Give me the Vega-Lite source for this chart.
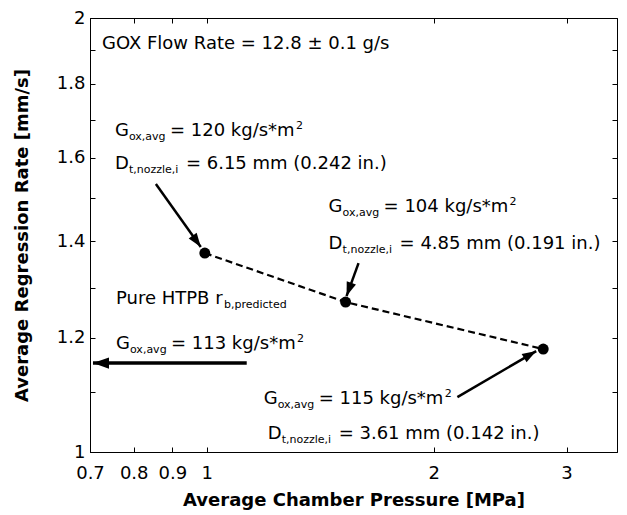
{
  "$schema": "https://vega.github.io/schema/vega-lite/v6.json",
  "width": 527,
  "height": 434,
  "autosize": {"type": "none"},
  "padding": {"left": 90, "top": 18, "right": 10, "bottom": 63},
  "background": "white",
  "config": {
    "view": {"stroke": "black", "strokeWidth": 1},
    "font": "DejaVu Sans",
    "axis": {
      "domainColor": "black", "tickColor": "black", "labelColor": "black", "titleColor": "black",
      "grid": false, "labelFont": "DejaVu Sans", "titleFont": "DejaVu Sans",
      "labelFontSize": 18, "titleFontSize": 18, "titleFontWeight": "bold",
      "tickSize": -5, "domainWidth": 1, "tickWidth": 1
    }
  },
  "datasets": {
    "pts": [
      {"p": 0.994, "r": 1.374},
      {"p": 1.528, "r": 1.2705},
      {"p": 2.794, "r": 1.1787}
    ],
    "labels": [
      {"kind": "plain", "x": 0.7261, "y": 1.9049, "head": "GOX Flow Rate = 12.8 ± 0.1 g/s", "sub": "", "body": "", "sup": ""},
      {"kind": "G", "x": 0.7554, "y": 1.6577, "head": "G", "sub": "ox,avg", "body": "= 120 kg/s*m", "sup": "2"},
      {"kind": "D", "x": 0.7554, "y": 1.5726, "head": "D", "sub": "t,nozzle,i", "body": "= 6.15 mm (0.242 in.)", "sup": ""},
      {"kind": "G", "x": 1.4507, "y": 1.4682, "head": "G", "sub": "ox,avg", "body": "= 104 kg/s*m", "sup": "2"},
      {"kind": "D", "x": 1.4507, "y": 1.3839, "head": "D", "sub": "t,nozzle,i", "body": "= 4.85 mm (0.191 in.)", "sup": ""},
      {"kind": "R", "x": 0.7578, "y": 1.2675, "head": "Pure HTPB r", "sub": "b,predicted", "body": "", "sup": ""},
      {"kind": "G", "x": 0.7578, "y": 1.1796, "head": "G", "sub": "ox,avg", "body": "= 113 kg/s*m", "sup": "2"},
      {"kind": "G", "x": 1.1897, "y": 1.0804, "head": "G", "sub": "ox,avg", "body": "= 115 kg/s*m", "sup": "2"},
      {"kind": "D", "x": 1.2043, "y": 1.0216, "head": "D", "sub": "t,nozzle,i", "body": "= 3.61 mm (0.142 in.)", "sup": ""}
    ],
    "arrows": [
      {"id": 1, "x": 0.856, "y": 1.5341, "x2": 0.9819, "y2": 1.3872},
      {"id": 2, "x": 1.5895, "y": 1.3522, "x2": 1.5324, "y2": 1.2828},
      {"id": 3, "x": 2.1496, "y": 1.0917, "x2": 2.7348, "y2": 1.1749},
      {"id": 4, "x": 1.1297, "y": 1.1526, "x2": 0.7064, "y2": 1.1526}
    ]
  },
  "layer": [
    {
      "data": {"name": "pts"},
      "mark": {"type": "line", "color": "black", "strokeWidth": 2.2, "strokeDash": [7, 4]},
      "encoding": {
        "x": {
          "field": "p", "type": "quantitative",
          "scale": {"type": "log", "domain": [0.7, 3.5], "nice": false},
          "axis": {"orient": "bottom", "values": [0.7, 0.8, 0.9, 1, 2, 3], "format": "~g", "title": "Average Chamber Pressure [MPa]", "labelPadding": 17, "titlePadding": 9, "labelFlush": false}
        },
        "y": {
          "field": "r", "type": "quantitative",
          "scale": {"type": "log", "domain": [1, 2], "nice": false},
          "axis": {"orient": "left", "values": [1, 1.1, 1.2, 1.3, 1.4, 1.5, 1.6, 1.7, 1.8, 1.9, 2], "format": "~g", "labelExpr": "indexof([1, 1.2, 1.4, 1.6, 1.8, 2], datum.value) >= 0 ? datum.label : ''", "title": "Average Regression Rate [mm/s]", "labelPadding": 10, "titlePadding": 25, "labelFlush": false}
        }
      }
    },
    {
      "data": {"name": "pts"},
      "mark": {"type": "point", "filled": true, "color": "black", "size": 120, "opacity": 1},
      "encoding": {
        "x": {"field": "p", "type": "quantitative", "axis": {"orient": "top", "values": [0.8, 0.9, 1, 2, 3], "labels": false, "title": null}},
        "y": {"field": "r", "type": "quantitative", "axis": {"orient": "right", "values": [1.1, 1.2, 1.3, 1.4, 1.5, 1.6, 1.7, 1.8, 1.9], "labels": false, "title": null}}
      }
    },
    {
      "data": {"name": "arrows"},
      "transform": [{"filter": "datum.id != 4"}],
      "mark": {"type": "rule", "color": "black", "strokeWidth": 2.5},
      "encoding": {
        "x": {"field": "x", "type": "quantitative", "axis": null},
        "y": {"field": "y", "type": "quantitative", "axis": null},
        "x2": {"field": "x2"},
        "y2": {"field": "y2"}
      }
    },
    {
      "data": {"name": "arrows"},
      "transform": [{"filter": "datum.id == 4"}],
      "mark": {"type": "rule", "color": "black", "strokeWidth": 3.5},
      "encoding": {
        "x": {"field": "x", "type": "quantitative", "axis": null},
        "y": {"field": "y", "type": "quantitative", "axis": null},
        "x2": {"field": "x2"},
        "y2": {"field": "y2"}
      }
    },
    {
      "data": {"name": "arrows"},
      "transform": [{"filter": "datum.id == 1"}],
      "mark": {"type": "point", "shape": "M0,0L-0.35,1L0.35,1Z", "filled": true, "color": "black", "opacity": 1, "size": 784, "angle": 144.5},
      "encoding": {
        "x": {"field": "x2", "type": "quantitative", "axis": null},
        "y": {"field": "y2", "type": "quantitative", "axis": null}
      }
    },
    {
      "data": {"name": "arrows"},
      "transform": [{"filter": "datum.id == 2"}],
      "mark": {"type": "point", "shape": "M0,0L-0.35,1L0.35,1Z", "filled": true, "color": "black", "opacity": 1, "size": 784, "angle": 200},
      "encoding": {
        "x": {"field": "x2", "type": "quantitative", "axis": null},
        "y": {"field": "y2", "type": "quantitative", "axis": null}
      }
    },
    {
      "data": {"name": "arrows"},
      "transform": [{"filter": "datum.id == 3"}],
      "mark": {"type": "point", "shape": "M0,0L-0.35,1L0.35,1Z", "filled": true, "color": "black", "opacity": 1, "size": 784, "angle": 59.8},
      "encoding": {
        "x": {"field": "x2", "type": "quantitative", "axis": null},
        "y": {"field": "y2", "type": "quantitative", "axis": null}
      }
    },
    {
      "data": {"name": "arrows"},
      "transform": [{"filter": "datum.id == 4"}],
      "mark": {"type": "point", "shape": "M0,0L-0.35,1L0.35,1Z", "filled": true, "color": "black", "opacity": 1, "size": 1024, "angle": 270},
      "encoding": {
        "x": {"field": "x2", "type": "quantitative", "axis": null},
        "y": {"field": "y2", "type": "quantitative", "axis": null}
      }
    },
    {
      "data": {"name": "labels"},
      "mark": {"type": "text", "align": "left", "baseline": "alphabetic", "fontSize": 18, "color": "black"},
      "encoding": {
        "x": {"field": "x", "type": "quantitative", "axis": null},
        "y": {"field": "y", "type": "quantitative", "axis": null},
        "text": {"field": "head"}
      }
    },
    {
      "data": {"name": "labels"},
      "transform": [{"filter": "datum.kind == 'G' || datum.kind == 'D'"}],
      "mark": {"type": "text", "align": "left", "baseline": "alphabetic", "fontSize": 11, "dx": 14, "dy": 4, "color": "black"},
      "encoding": {
        "x": {"field": "x", "type": "quantitative", "axis": null},
        "y": {"field": "y", "type": "quantitative", "axis": null},
        "text": {"field": "sub"}
      }
    },
    {
      "data": {"name": "labels"},
      "transform": [{"filter": "datum.kind == 'R'"}],
      "mark": {"type": "text", "align": "left", "baseline": "alphabetic", "fontSize": 11, "dx": 108, "dy": 4, "color": "black"},
      "encoding": {
        "x": {"field": "x", "type": "quantitative", "axis": null},
        "y": {"field": "y", "type": "quantitative", "axis": null},
        "text": {"field": "sub"}
      }
    },
    {
      "data": {"name": "labels"},
      "transform": [{"filter": "datum.kind == 'G'"}],
      "mark": {"type": "text", "align": "left", "baseline": "alphabetic", "fontSize": 18, "dx": 55, "color": "black"},
      "encoding": {
        "x": {"field": "x", "type": "quantitative", "axis": null},
        "y": {"field": "y", "type": "quantitative", "axis": null},
        "text": {"field": "body"}
      }
    },
    {
      "data": {"name": "labels"},
      "transform": [{"filter": "datum.kind == 'D'"}],
      "mark": {"type": "text", "align": "left", "baseline": "alphabetic", "fontSize": 18, "dx": 71, "color": "black"},
      "encoding": {
        "x": {"field": "x", "type": "quantitative", "axis": null},
        "y": {"field": "y", "type": "quantitative", "axis": null},
        "text": {"field": "body"}
      }
    },
    {
      "data": {"name": "labels"},
      "transform": [{"filter": "datum.kind == 'G'"}],
      "mark": {"type": "text", "align": "left", "baseline": "alphabetic", "fontSize": 11, "dx": 181, "dy": -7, "color": "black"},
      "encoding": {
        "x": {"field": "x", "type": "quantitative", "axis": null},
        "y": {"field": "y", "type": "quantitative", "axis": null},
        "text": {"field": "sup"}
      }
    }
  ],
  "resolve": {"axis": {"x": "independent", "y": "independent"}}
}
